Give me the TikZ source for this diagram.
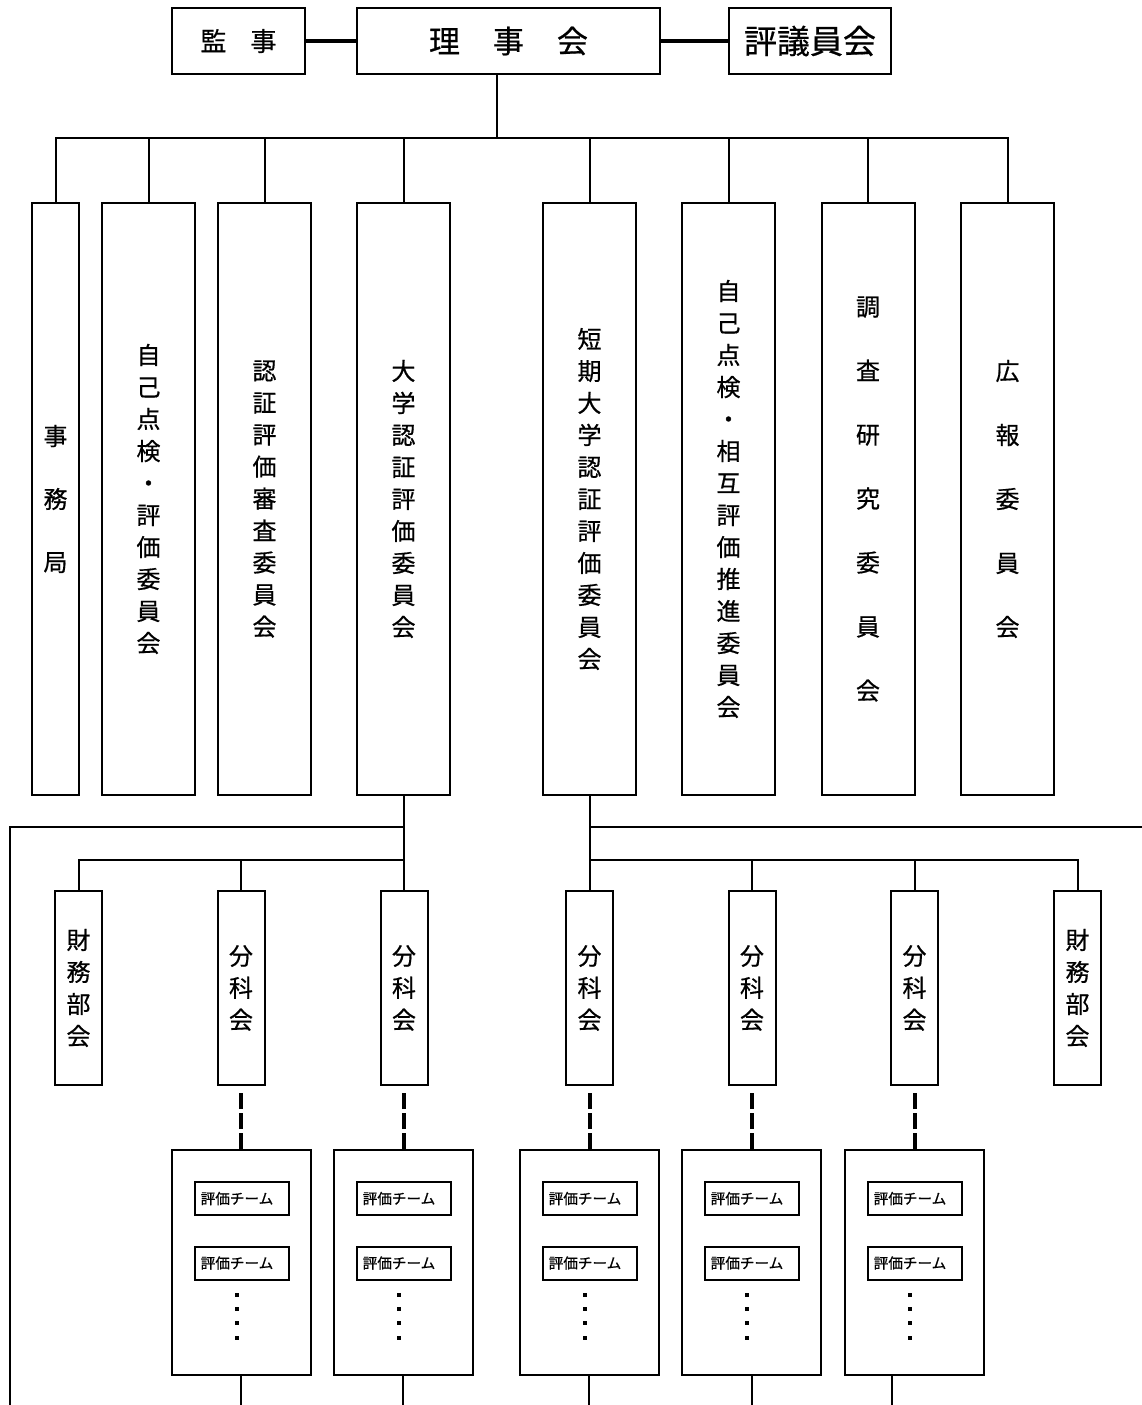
\documentclass[tikz,border=0pt]{standalone}
\usepackage{fontspec}
\setmainfont{Noto Sans CJK JP}[FakeBold=0.6]
\begin{document}
\begin{tikzpicture}[x=0.5pt,y=-0.5pt,
  bx/.style={draw, line width=1pt, inner sep=0pt, align=center, fill=white},
  topbox/.style={bx, minimum height=33pt},
  tallbox/.style={bx, minimum width=46.5pt, minimum height=296pt, font=\fontsize{12}{16}\selectfont},
  smallbox/.style={bx, minimum width=23.5pt, minimum height=97pt, font=\fontsize{12}{16}\selectfont},
  groupbox/.style={bx, minimum width=69.5pt, minimum height=112.5pt},
  teambox/.style={bx, minimum width=47pt, minimum height=16.5pt, font=\fontsize{7.3}{8}\selectfont},
  conn/.style={line width=1pt},
  thickconn/.style={line width=2pt},
  dashconn/.style={line width=2pt, dash pattern=on 8pt off 2pt}]
\useasboundingbox (0,0) rectangle (1142,1405);

% top row
\node[topbox, minimum width=66.5pt, font=\fontsize{13}{15}\selectfont] (kanji) at (238.5,41) {監\hspace{12pt}事};
\node[topbox, minimum width=151.5pt, font=\fontsize{15.5}{18}\selectfont] (riji) at (508.5,41) {理\hspace{16.5pt}事\hspace{16.5pt}会};
\node[topbox, minimum width=81pt, font=\fontsize{16.5}{19}\selectfont] (hyogi) at (810,41) {評議員会};
\draw[thickconn] (kanji.east) -- (riji.west);
\draw[thickconn] (riji.east) -- (hyogi.west);

% committees
\node[tallbox, minimum width=23.5pt, font=\fontsize{12}{31.5}\selectfont] (jimu) at (55.5,499) {事\\務\\局};
\node[tallbox] (jiko) at (148.5,499) {自\\己\\点\\検\\・\\評\\価\\委\\員\\会};
\node[tallbox] (shinsa) at (264.5,499) {認\\証\\評\\価\\審\\査\\委\\員\\会};
\node[tallbox] (daigaku) at (403.5,499) {大\\学\\認\\証\\評\\価\\委\\員\\会};
\node[tallbox] (tanki) at (589.5,499) {短\\期\\大\\学\\認\\証\\評\\価\\委\\員\\会};
\node[tallbox] (sogo) at (728.5,499) {自\\己\\点\\検\\・\\相\\互\\評\\価\\推\\進\\委\\員\\会};
\node[tallbox, font=\fontsize{12}{32}\selectfont] (chosa) at (868,499) {調\\査\\研\\究\\委\\員\\会};
\node[tallbox, font=\fontsize{12}{32}\selectfont] (koho) at (1007.5,499) {広\\報\\委\\員\\会};

\coordinate (bus) at (0,138);
\coordinate (rijix) at (497,0);
\draw[conn] (riji.south -| rijix) -- (bus -| rijix);
\draw[conn] (jimu.north) -- (jimu.north |- bus) -- (koho.north |- bus) -- (koho.north);
\foreach \n in {jiko,shinsa,daigaku,tanki,sogo,chosa}
  \draw[conn] (\n.north) -- (\n.north |- bus);

% sub-units
\node[smallbox] (zaimu1) at (78.5,988) {財\\務\\部\\会};
\node[smallbox] (bunka1) at (241,988) {分\\科\\会};
\node[smallbox] (bunka2) at (404,988) {分\\科\\会};
\node[smallbox] (bunka3) at (589.5,988) {分\\科\\会};
\node[smallbox] (bunka4) at (752,988) {分\\科\\会};
\node[smallbox] (bunka5) at (914.5,988) {分\\科\\会};
\node[smallbox] (zaimu2) at (1077.5,988) {財\\務\\部\\会};

\coordinate (rowA) at (0,827);
\coordinate (rowB) at (0,860);
\coordinate (leftx) at (10,0);
\coordinate (leftbot) at (10,1405);
\coordinate (rightend) at (1142,827);

\draw[conn] (daigaku.south) -- (daigaku.south |- bunka2.north);
\draw[conn] (daigaku.south |- rowA) -- (rowA -| leftx) -- (leftbot);
\draw[conn] (zaimu1.north) -- (zaimu1.north |- rowB) -- (daigaku.south |- rowB);
\draw[conn] (bunka1.north) -- (bunka1.north |- rowB);

\draw[conn] (tanki.south) -- (tanki.south |- bunka3.north);
\draw[conn] (tanki.south |- rowA) -- (rightend);
\draw[conn] (zaimu2.north) -- (zaimu2.north |- rowB) -- (tanki.south |- rowB);
\draw[conn] (bunka4.north) -- (bunka4.north |- rowB);
\draw[conn] (bunka5.north) -- (bunka5.north |- rowB);

% evaluation team groups
\foreach \i/\x/\bx in {1/241.5/241, 2/403.5/403, 3/589.5/589, 4/751.5/752, 5/914.5/892} {
  \node[groupbox] (g\i) at (\x,1262.5) {};
  \node[teambox] (t\i a) at (\x,1198.5) {評価チーム\hspace*{4.5pt}};
  \node[teambox] (t\i b) at (\x,1263) {評価チーム\hspace*{4.5pt}};
  \foreach \yy in {1295,1309,1323,1338}
    \fill (\x-7,\yy-2) rectangle +(4,4);
  \coordinate (gb\i) at (\bx,1405);
  \draw[conn] (g\i.south -| gb\i) -- (gb\i);
  \draw[dashconn] (bunka\i.south |- g\i.north) -- ([yshift=-3.5pt]bunka\i.south);
}
\end{tikzpicture}
\end{document}
